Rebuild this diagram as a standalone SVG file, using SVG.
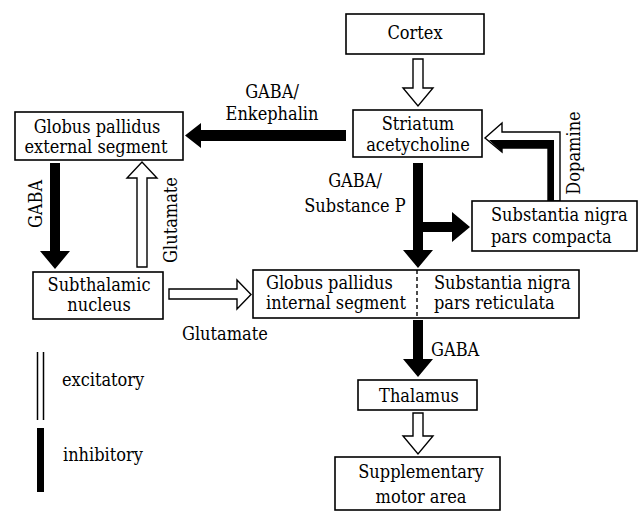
<svg xmlns="http://www.w3.org/2000/svg" width="641" height="512" viewBox="0 0 641 512">
<style>
  .box { fill: #fff; stroke: #000; stroke-width: 1.6; }
  text { font-family: "DejaVu Serif", serif; font-stretch: condensed; font-size: 18px; fill: #000; }
  .c { text-anchor: middle; }
  .inh { fill: #000; stroke: none; }
  .exc { fill: #fff; stroke: #000; stroke-width: 1.4; stroke-linejoin: miter; }
</style>
<rect width="641" height="512" fill="#fff"/>

<g id="connectors">
  <polygon class="exc" points="413,59 423,59 423,88 433,88 418,106 403,88 413,88"/>
  <polygon class="inh" points="346,130 346,141 201,141 201,148 185,135.5 201,123 201,130"/>
  <polygon class="inh" points="413,163 423,163 423,222 452,222 452,212 470,227 452,242 452,232 423,232 423,250 433,250 418,268 403,250 413,250"/>
  <polygon class="exc" points="560,201 560,132 502,132 502,123 485,138 502,152 502,148 548,148 548,201"/>
  <polygon class="inh" points="489,140 554,140 554,201 548,201 548,148 502,148 502,152"/>
  <polygon class="inh" points="50,163 60,163 60,251 70,251 55,269 40,251 50,251"/>
  <polygon class="exc" points="137,267 147,267 147,178 157,178 142,162 127,178 137,178"/>
  <polygon class="exc" points="169,289 237,289 237,280 251,294.5 237,309 237,299 169,299"/>
  <polygon class="inh" points="413,320 423,320 423,359 433,359 418,377 403,359 413,359"/>
  <polygon class="exc" points="413,413 423,413 423,436 433,436 418,454 403,436 413,436"/>

  <text class="c" x="272" y="98">GABA/</text>
  <text class="c" x="272" y="120">Enkephalin</text>
  <text class="c" x="355" y="187">GABA/</text>
  <text class="c" x="355" y="212">Substance P</text>
  <text class="c" transform="translate(580,153) rotate(-90)">Dopamine</text>
  <text class="c" transform="translate(42,204) rotate(-90)">GABA</text>
  <text class="c" transform="translate(177,220) rotate(-90)">Glutamate</text>
  <text x="182" y="340">Glutamate</text>
  <text x="431" y="356">GABA</text>
</g>

<g id="cortex">
  <rect class="box" x="346" y="14" width="138" height="40"/>
  <text class="c" x="415" y="39">Cortex</text>
</g>
<g id="striatum">
  <rect class="box" x="353" y="110" width="129" height="47"/>
  <text class="c" x="418" y="130">Striatum</text>
  <text class="c" x="418" y="151">acetycholine</text>
</g>
<g id="gpe">
  <rect class="box" x="15" y="112" width="168" height="48"/>
  <text class="c" x="97" y="133">Globus pallidus</text>
  <text class="c" x="96" y="153">external segment</text>
</g>
<g id="snc">
  <rect class="box" x="472" y="201" width="165" height="50"/>
  <text x="491" y="221">Substantia nigra</text>
  <text x="491" y="243">pars compacta</text>
</g>
<g id="stn">
  <rect class="box" x="33" y="272" width="130" height="47"/>
  <text class="c" x="99" y="291">Subthalamic</text>
  <text class="c" x="99" y="311">nucleus</text>
</g>
<g id="gpi-snr">
  <rect class="box" x="253" y="270" width="326" height="48"/>
  <line x1="417" y1="270" x2="417" y2="318" stroke="#000" stroke-width="1.4" stroke-dasharray="4 3"/>
  <text x="266" y="289">Globus pallidus</text>
  <text x="266" y="309">internal segment</text>
  <text x="434" y="289">Substantia nigra</text>
  <text x="434" y="309">pars reticulata</text>
</g>
<g id="thalamus">
  <rect class="box" x="358" y="380" width="119" height="30"/>
  <text class="c" x="419" y="402">Thalamus</text>
</g>
<g id="sma">
  <rect class="box" x="335" y="457" width="165" height="53"/>
  <text class="c" x="421" y="478">Supplementary</text>
  <text class="c" x="421" y="503">motor area</text>
</g>

<g id="legend">
  <line x1="37.5" y1="352" x2="37.5" y2="420" stroke="#000" stroke-width="1.5"/>
  <line x1="43.5" y1="352" x2="43.5" y2="420" stroke="#000" stroke-width="1.5"/>
  <text x="62" y="386">excitatory</text>
  <rect class="inh" x="37" y="428" width="7" height="64"/>
  <text x="63" y="461">inhibitory</text>
</g>
</svg>
